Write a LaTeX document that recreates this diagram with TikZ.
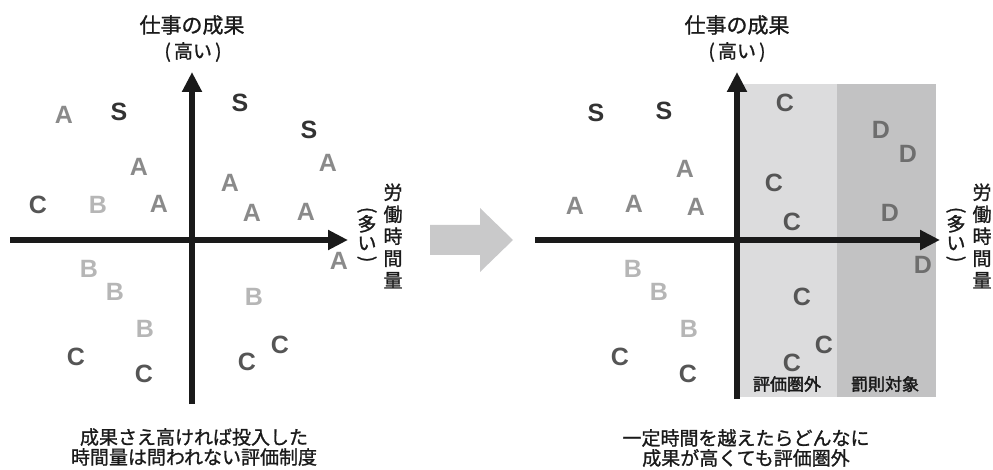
\documentclass[tikz,border=0pt]{standalone}
\usepackage{fontspec}
\setmainfont{Liberation Sans}
\newfontfamily\jp[RawFeature={embolden=1.2}]{Noto Sans CJK JP}
\newfontfamily\jpb[RawFeature={embolden=2}]{Noto Sans CJK JP}
\usetikzlibrary{arrows.meta}
\definecolor{cS}{HTML}{333333}
\definecolor{cA}{HTML}{8A8A8A}
\definecolor{cB}{HTML}{B6B6B6}
\definecolor{cC}{HTML}{555555}
\definecolor{cD}{HTML}{6E6E6E}
\definecolor{zoneL}{HTML}{DCDCDD}
\definecolor{zoneD}{HTML}{C2C2C3}
\definecolor{bigarrow}{HTML}{C9C9CA}
\definecolor{axisc}{HTML}{1A1A1A}
\tikzset{
  ltr/.style={inner sep=0pt, font=\bfseries\fontsize{25}{25}\selectfont},
  lS/.style={ltr, text=cS},
  lA/.style={ltr, text=cA},
  lB/.style={ltr, text=cB},
  lC/.style={ltr, text=cC},
  lD/.style={ltr, text=cD},
  axisline/.style={draw=axisc, line width=6pt, -{Triangle[length=20pt,width=19pt]}},
  ttl/.style={inner sep=0pt, font=\jp\fontsize{21}{24}\selectfont, text=axisc},
  subttl/.style={inner sep=0pt, font=\jp\fontsize{19}{22}\selectfont, text=axisc},
  caption/.style={inner sep=0pt, align=center, font=\jp\fontsize{19}{20}\selectfont, text=axisc},
  vlab/.style={inner sep=0pt, align=center, font=\jp\fontsize{19}{22}\selectfont, text=axisc},
  vpar/.style={inner sep=0pt, align=center, font=\jp\fontsize{19}{19}\selectfont, text=axisc},
  zonelab/.style={inner sep=0pt, font=\jpb\fontsize{17}{17}\selectfont, text=axisc},
}
\begin{document}
\begin{tikzpicture}[x=1pt,y=-1pt]
\useasboundingbox (0,0) rectangle (993,470);
% ---------------- left chart ----------------
\node[ttl] (Lt1) at (192,25) {仕事の成果};
\node[subttl] (Lt2) at (193,52) {(\,高い\,)};
\coordinate (Lys) at (192,404);
\coordinate (Lye) at (192,72);
\coordinate (Lxs) at (10,240);
\coordinate (Lxe) at (348,240);
\draw[axisline] (Lys) -- (Lye);
\draw[axisline] (Lxs) -- (Lxe);
\node[vlab] (Lv1) at (393,236) {労\\働\\時\\間\\量};
\node[vpar] (Lv2) at (367,236) {\rotatebox[origin=c]{-90}{(}\\[-4pt]多\\い\\[-4pt]\rotatebox[origin=c]{-90}{)}};
\node[lA] (L1) at (64,115) {A};
\node[lS] (L2) at (119,112) {S};
\node[lS] (L3) at (240,103) {S};
\node[lS] (L4) at (309,130) {S};
\node[lA] (L5) at (328,163) {A};
\node[lA] (L6) at (139,167) {A};
\node[lA] (L7) at (230,183) {A};
\node[lC] (L8) at (38,205) {C};
\node[lB] (L9) at (98,205) {B};
\node[lA] (L10) at (159,204) {A};
\node[lA] (L11) at (252,213) {A};
\node[lA] (L12) at (306,212) {A};
\node[lA] (L13) at (339,261) {A};
\node[lB] (L14) at (89,269) {B};
\node[lB] (L15) at (115,292) {B};
\node[lB] (L16) at (145,329) {B};
\node[lC] (L17) at (76,357) {C};
\node[lC] (L18) at (144,374) {C};
\node[lB] (L19) at (254,297) {B};
\node[lC] (L20) at (247,362) {C};
\node[lC] (L21) at (280,345) {C};
\node[caption] (Lcap) at (194,447) {成果さえ高ければ投入した\\時間量は問われない評価制度};
% ---------------- middle arrow ----------------
\fill[bigarrow] (430,225) -- (480,225) -- (480,208) -- (513,240) -- (480,272) -- (480,255) -- (430,255) -- cycle;
% ---------------- right chart ----------------
\fill[zoneL] (736,84) rectangle (837,397);
\fill[zoneD] (837,84) rectangle (936,397);
\node[ttl] (Rt1) at (737,25) {仕事の成果};
\node[subttl] (Rt2) at (737,52) {(\,高い\,)};
\coordinate (Rys) at (737,399);
\coordinate (Rye) at (737,72);
\coordinate (Rxs) at (535,240);
\coordinate (Rxe) at (940,240);
\draw[axisline] (Rys) -- (Rye);
\draw[axisline] (Rxs) -- (Rxe);
\node[vlab] (Rv1) at (982,236) {労\\働\\時\\間\\量};
\node[vpar] (Rv2) at (956,236) {\rotatebox[origin=c]{-90}{(}\\[-4pt]多\\い\\[-4pt]\rotatebox[origin=c]{-90}{)}};
\node[lS] (R1) at (596,113) {S};
\node[lS] (R2) at (664,111) {S};
\node[lA] (R3) at (685,169) {A};
\node[lA] (R4) at (575,206) {A};
\node[lA] (R5) at (634,204) {A};
\node[lA] (R6) at (696,207) {A};
\node[lC] (R7) at (785,103) {C};
\node[lC] (R8) at (774,183) {C};
\node[lC] (R9) at (792,222) {C};
\node[lD] (R10) at (881,130) {D};
\node[lD] (R11) at (908,154) {D};
\node[lD] (R12) at (890,213) {D};
\node[lD] (R13) at (923,265) {D};
\node[lB] (R14) at (633,269) {B};
\node[lB] (R15) at (659,292) {B};
\node[lB] (R16) at (689,329) {B};
\node[lC] (R17) at (620,357) {C};
\node[lC] (R18) at (688,374) {C};
\node[lC] (R19) at (802,297) {C};
\node[lC] (R20) at (824,345) {C};
\node[lC] (R21) at (792,363) {C};
\node[zonelab] (Rz1) at (787,384) {評価圏外};
\node[zonelab] (Rz2) at (885,384) {罰則対象};
\node[caption] (Rcap) at (746,448) {一定時間を越えたらどんなに\\成果が高くても評価圏外};
\end{tikzpicture}
\end{document}
